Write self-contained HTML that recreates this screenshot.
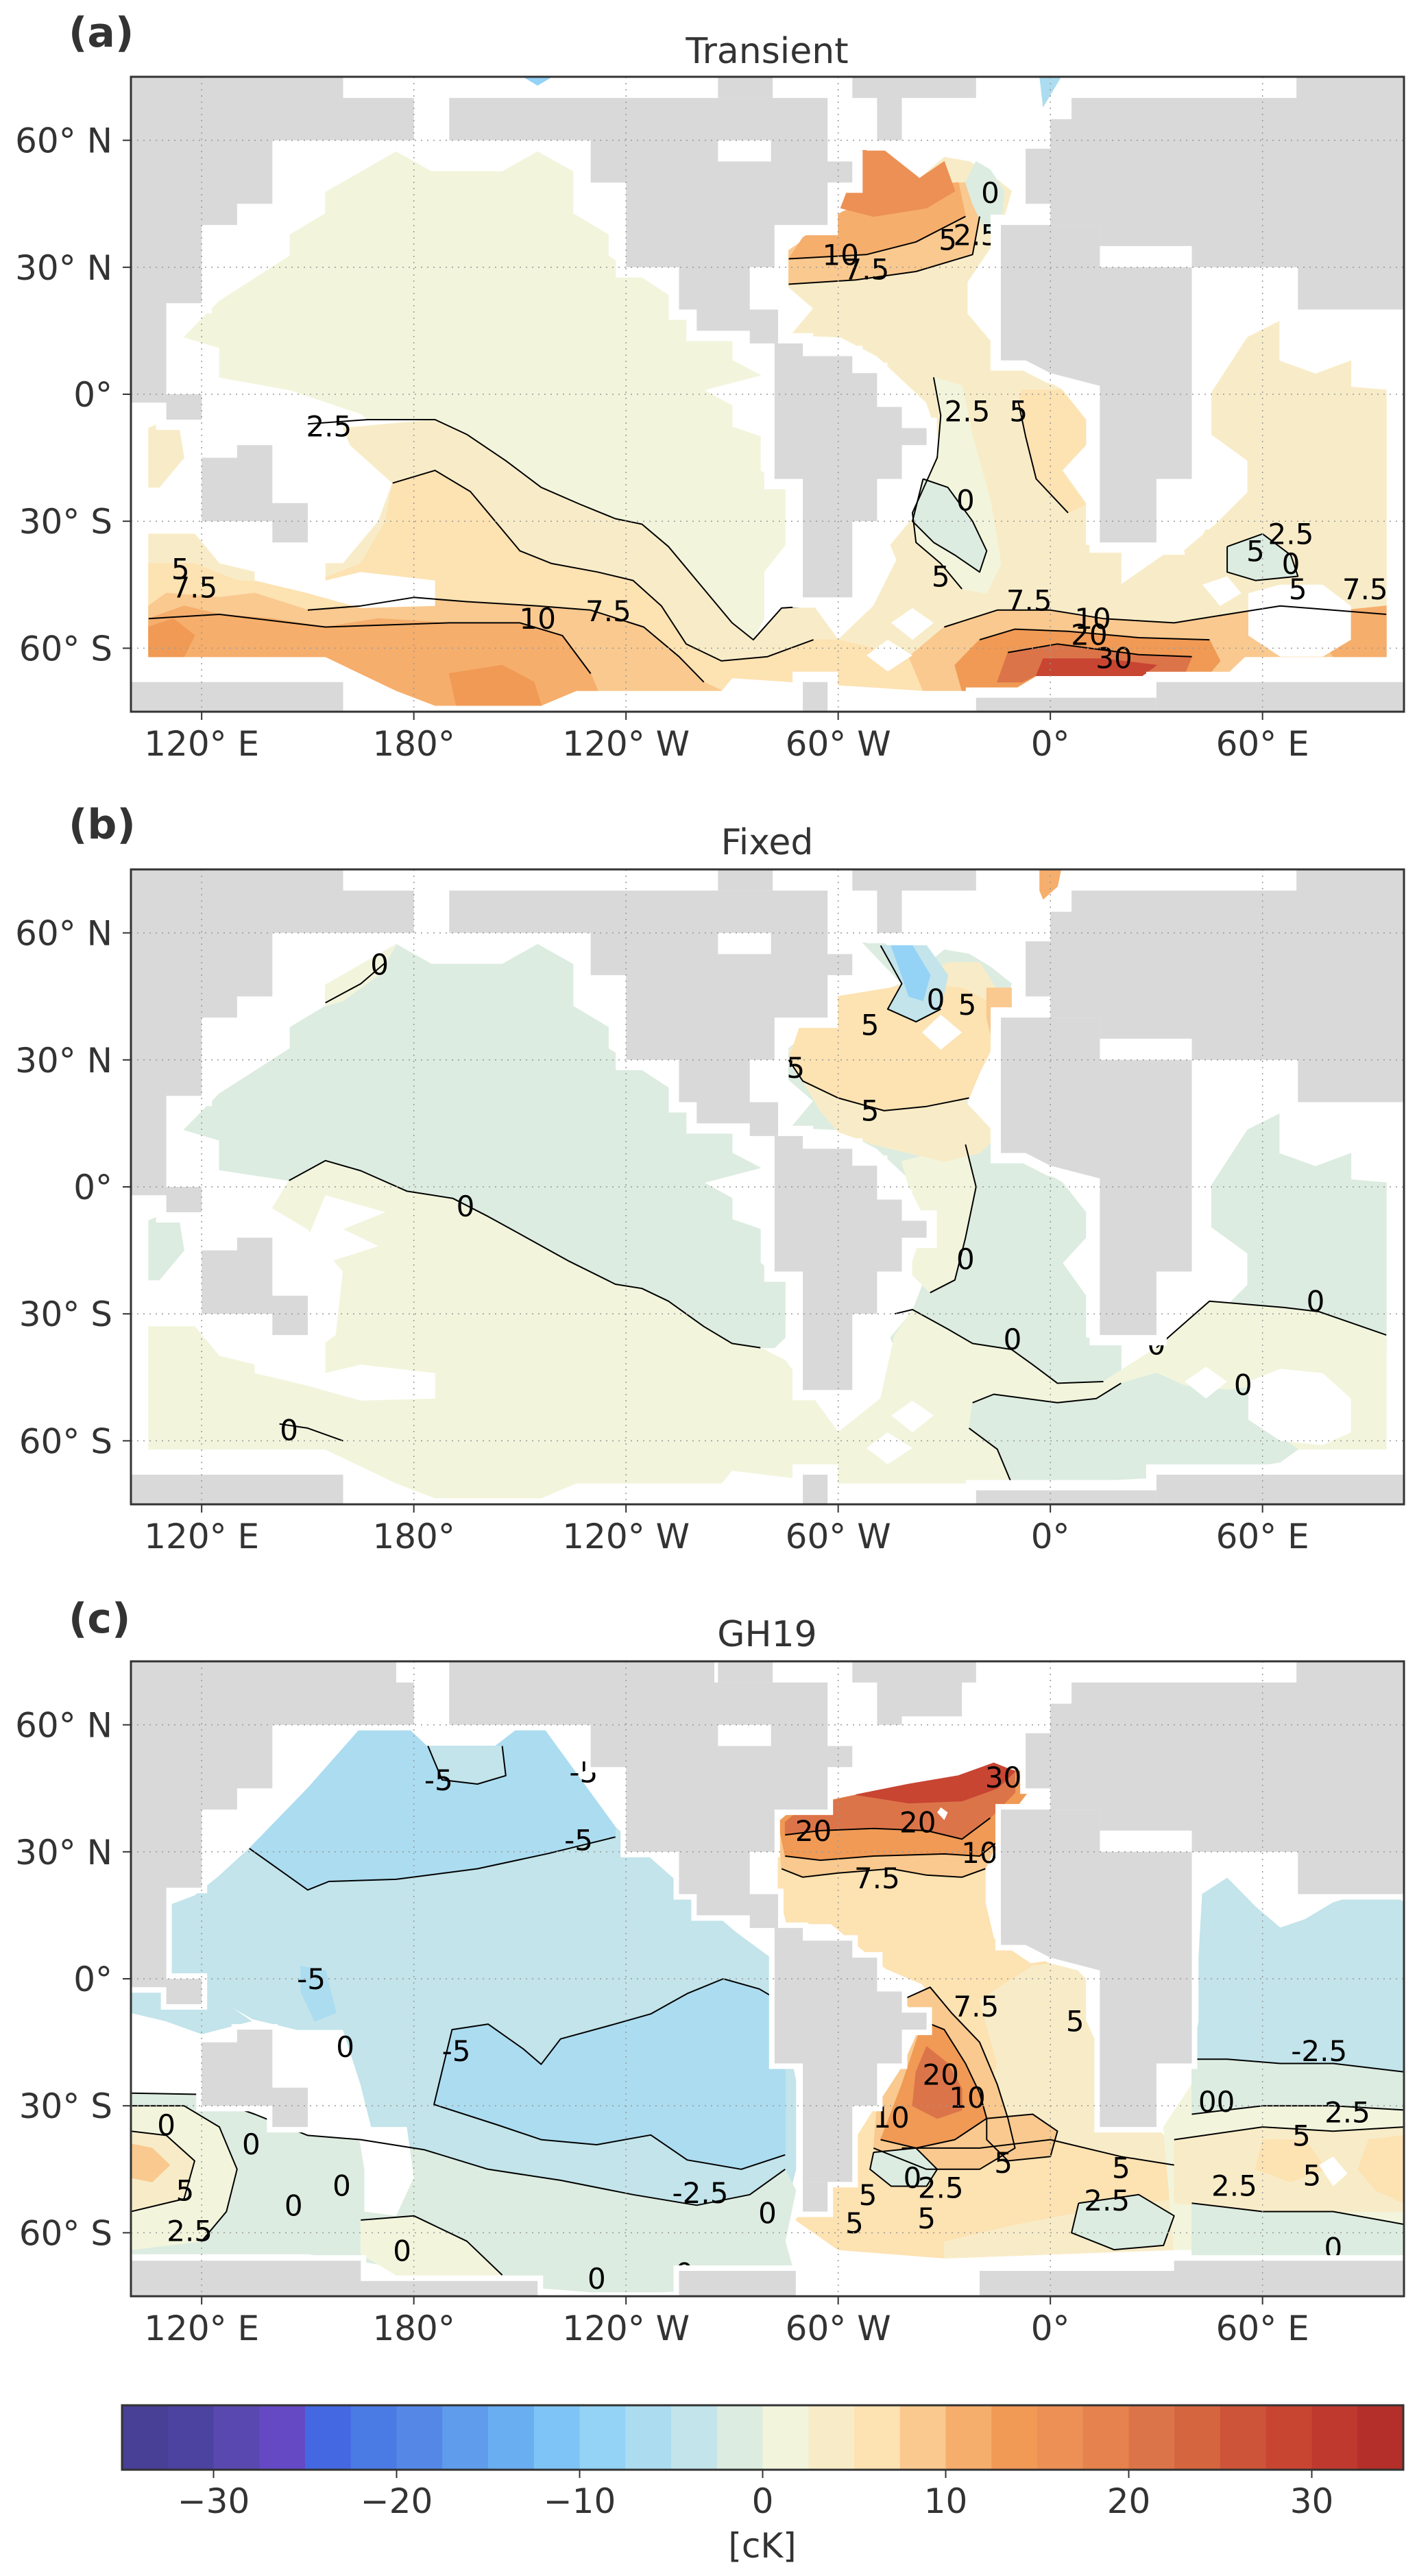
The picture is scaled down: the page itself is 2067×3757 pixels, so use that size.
<!DOCTYPE html>
<html><head><meta charset="utf-8"><title>Temperature anomaly maps</title>
<style>
html,body{margin:0;padding:0;background:#fff;}
body{width:2067px;height:3757px;overflow:hidden;}
svg{display:block;font-family:"DejaVu Sans","Liberation Sans",sans-serif;}
</style></head>
<body>
<svg id="fig" width="2067" height="3757" viewBox="0 0 2067 3757" xmlns="http://www.w3.org/2000/svg">
  <rect x="0" y="0" width="2067" height="3757" fill="#fff"/>
  <text x="100" y="68" font-size="60" font-weight="bold" fill="#333">(a)</text>
  <text x="1119" y="92" font-size="52" fill="#333" text-anchor="middle">Transient</text>
  <text x="100" y="1223" font-size="60" font-weight="bold" fill="#333">(b)</text>
  <text x="1119" y="1246" font-size="52" fill="#333" text-anchor="middle">Fixed</text>
  <text x="100" y="2381" font-size="60" font-weight="bold" fill="#333">(c)</text>
  <text x="1119" y="2401" font-size="52" fill="#333" text-anchor="middle">GH19</text>
  <g id="panels"></g>
  <g id="colorbar"></g>
  <text x="1112" y="3730" font-size="50" fill="#333" text-anchor="middle">[cK]</text>
</svg>
<script>
// ---------- colour scale ----------
const cbColors = ["#483f96","#4c42a0","#5848b0","#6548c4","#4468e2","#4a7ae4","#5588e6","#609cec","#6aaef2","#7ec4f6","#94d2f6","#acdcf0","#c2e4ea","#dcece0","#f2f5dc","#f8ecc8","#fde2b2","#f9c98f","#f6ae6c","#f09a55","#ec9055","#e5824d","#dc7449","#d4653f","#cd5438","#c84532","#c0392f","#b42f2a"];
const cbTicks = [-30,-20,-10,0,10,20,30];
const cbMin = -35, cbMax = 35, cbStep = 2.5;

// ---------- axes ----------
const lonTicks = [120,180,240,300,360,420];
const lonLabels = ["120° E","180°","120° W","60° W","0°","60° E"];
const latTicks = [60,30,0,-30,-60];
const latLabels = ["60° N","30° N","0°","30° S","60° S"];

// ---------- land (lon 100..460, lat) ----------
const landCommon = [
 [[100,75],[160,75],[160,70],[180,70],[180,60],[140,60],[140,45],[130,45],[130,40],[120,40],[120,21.5],[110,21.5],[110,0],[120,0],[120,-6],[110,-6],[110,-2],[100,-2]],
 [[120,-15],[130,-15],[130,-12],[140,-12],[140,-25.7],[150,-25.7],[150,-35],[140,-35],[140,-30],[120,-30]],
 [[190,70],[297,70],[297,55],[304,55],[304,50],[297,50],[297,40],[282,40],[282,30],[275,30],[275,20],[283,20],[283,12],[275,12],[275,15],[260,15],[260,20],[255,20],[255,30],[240,30],[240,50],[230,50],[230,60],[190,60]],
 [[266,75],[281.5,75],[281.5,70],[266,70]],
 [[304,75],[339,75],[339,70],[318,70],[318,60],[311,60],[311,70],[304,70]],
 [[282,12],[290,12],[290,9],[304,9],[304,5],[311,5],[311,-3],[318,-3],[318,-8],[325,-8],[325,-12],[318,-12],[318,-20],[311,-20],[311,-30],[304,-30],[304,-48],[290,-48],[290,-20],[282,-20]],
 [[346,8],[346,40],[374,40],[374,30],[400,30],[400,-20],[390,-20],[390,-35],[374,-35],[374,2],[360,5],[353,8]],
 [[353,45],[353,58],[360,58],[360,65],[366,65],[366,70],[429.6,70],[429.6,75],[460,75],[460,20],[430,20],[430,30],[400,30],[400,35],[374,35],[374,40],[360,40],[360,45]]
];
const landAB = [
 [[100,-68],[160,-68],[160,-75],[100,-75]],
 [[290,-68],[297,-68],[297,-75],[290,-75]],
 [[339,-71.7],[390,-71.7],[390,-75],[339,-75]],
 [[390,-68],[460,-68],[460,-75],[390,-75]]
];
const landC = [
 [[100,60],[175,60],[175,75],[100,75]],
 [[190,62],[265,62],[265,75],[190,75]],
 [[312,62],[335,62],[335,75],[312,75]],
 [[290,-48],[297,-48],[297,-55],[290,-55]],
 [[100,-66.6],[165,-66.6],[165,-71.4],[215,-71.4],[215,-75],[100,-75]],
 [[255,-69],[288,-69],[288,-75],[255,-75]],
 [[340,-69],[460,-69],[460,-75],[340,-75]],
 [[395,-66.6],[460,-66.6],[460,-69],[395,-69]]
];
const landHoles = [[[266,60],[281,60],[281,55],[266,55]]];

// ---------- panel (a) Transient ----------
const aValues = [3.75,6.25,1.25,3.75,3.75,3.75,6.25,1.25,-1.25,8.75,11.25,16.25,-1.25,8.75,13.75,21.25,28.75,8.75,11.25,13.75,13.75,-1.25,11.25,-8.75,-6.25];
const aRegions = [
 [[160,-8],[186,-6],[195,-9.5],[206,-15.7],[216,-22],[227,-26],[237,-29.4],[244.5,-30.7],[252,-36],[260,-44],[270,-54],[276,-58],[284,-50.5],[293,-50],[300,-58],[310,-50],[316,-40],[320,-35],[330,-38],[340,-45],[360,-46],[380,-45],[392,-38],[400,-38],[404,-32],[455,-42],[455,-62],[415,-62],[410,-66],[357,-66],[349,-70],[324,-70],[270,-67],[267,-70],[226,-70],[216,-73.5],[186,-73.5],[175,-70],[155,-62],[105,-62],[105,-33],[118,-33],[125,-40],[135,-42],[150,-40],[160,-40],[170,-30],[174,-21],[162,-12]],
 [[174,-21],[186,-18],[196,-23],[204,-31],[210,-37],[219,-40],[232,-42],[242,-44],[250,-50],[257,-59],[267,-63],[280,-62],[293,-58],[300,-58],[320,-62],[324,-70],[270,-67],[267,-70],[226,-70],[216,-73.5],[186,-73.5],[175,-70],[155,-62],[105,-62],[105,-40],[118,-40],[130,-44],[150,-45],[165,-40],[172,-30]],
 [[115,13.5],[125,22],[145,32.7],[145,37.7],[155,42.7],[155,47.7],[175,57.3],[185,52.6],[205,52.6],[215,57.3],[225,52.6],[225,42.7],[235,37.7],[235,32.7],[260,19],[270,13.5],[270,8],[278,4.5],[262,1],[270,-2.7],[270,-7.7],[278,-10],[278,-18],[285,-22.6],[285,-35.6],[279,-42],[279,-53],[276,-58],[270,-54],[260,-44],[252,-36],[244.5,-30.7],[237,-29.4],[227,-26],[216,-22],[206,-15.7],[195,-9.5],[186,-6],[167,-6],[165,-4.6],[145,1],[125,4],[125,11]],
 [[307,57.6],[313,57.6],[323,51],[330,56],[337,55],[343,52],[349,48],[345.5,37.7],[336.5,26.5],[336.5,19],[344,11.6],[352,6.6],[363.4,1],[370,-6],[370,-12],[363.4,-18],[370,-25.7],[370,-35.6],[380,-37],[380,-46],[320,-46],[314.8,-35.6],[321,-29.4],[329,-12],[325,-2],[311,9],[300.7,13.5],[286.7,14],[293,20.3],[286,25.3],[286,32.7],[300.7,42.7],[318,48]],
 [[405.6,0.4],[415.8,13.5],[424.7,17.2],[424.7,7.9],[435,4.8],[445,7.9],[445,1.7],[455,1],[455,-45],[400,-45],[397.9,-36.9],[406.8,-30.7],[415.8,-23.2],[415.8,-15.7],[405.6,-9.5]],
 [[105,-8],[113,-5],[115,-15],[108,-22],[105,-22]],
 [[352,1],[363,1],[370,-6],[370,-12],[363,-18],[370,-26],[365,-28],[356,-20],[353,-10],[351,-2]],
 [[327,4],[335,2],[338,-10],[343,-25],[346,-40],[342,-47],[335,-46],[329,-40],[322,-35],[321,-28],[328,-15],[329,-5]],
 [[324,-20],[331,-22],[338,-30],[342,-37],[340,-42],[333,-38],[327,-35],[321,-30]],
 [[286,26],[286,34],[300,42],[318,49],[336,50],[340,42],[338,33],[322,29],[305,27]],
 [[286,32],[290,37],[301,43],[318,49],[334,50],[336,42],[322,36],[308,33]],
 [[300.7,44],[307,57.6],[313,57.6],[323,51],[330,55],[333,48],[325,44],[310,42]],
 [[339,55],[343,53],[347,48],[346,40],[342,38],[338,45],[336,50]],
 [[330,-55],[345,-51],[360,-51],[375,-53],[395,-54],[410,-52],[425,-50],[455,-52],[455,-62],[415,-62],[410,-66],[357,-66],[349,-70],[324,-70],[320,-62]],
 [[340,-58],[350,-55.5],[365,-56],[385,-57.5],[405,-58],[408,-63],[405,-66],[357,-66],[349,-70],[335,-70],[333,-64]],
 [[348,-61],[362,-59],[385,-61.5],[400,-62],[398,-66],[357,-66],[352,-68],[345,-68]],
 [[358,-62.5],[375,-62.5],[390,-64],[386,-66.5],[356,-66.5]],
 [[105,-50],[110,-47],[125,-48],[135,-47],[150,-51],[165,-50],[180,-48],[195,-49],[215,-50],[230,-51],[245,-55],[255,-62],[262,-68],[267,-70],[226,-70],[216,-73.5],[186,-73.5],[175,-70],[155,-62],[105,-62]],
 [[105,-53],[115,-50],[125,-52],[140,-53],[155,-55],[170,-53],[190,-54],[210,-54],[222,-57],[230,-66],[232,-70],[226,-70],[216,-73.5],[186,-73.5],[175,-70],[155,-62],[105,-62]],
 [[105,-55],[112,-53],[118,-57],[115,-62],[105,-62]],
 [[190,-66],[205,-64],[214,-68],[216,-73.5],[192,-73.5]],
 [[410,-36],[420,-33],[428,-38],[430,-43],[418,-44],[410,-42]],
 [[432,-52],[455,-50],[455,-62],[440,-62]],
 [[211,75],[219,75],[215,73]],
 [[357,75],[363,75],[358,68]]
];
const aMasks = [
 [[321,-50.5],[327,-54],[321,-58],[315,-54]],
 [[314,-58],[321,-61.7],[314,-65.5],[308,-61.7]],
 [[416,-47],[425,-45],[437,-45],[445,-50],[445,-58],[437,-62],[425,-62],[416,-57]],
 [[403,-45],[410,-43],[414,-47],[408,-50]],
 [[135,-37],[155,-37],[155,-44],[165,-42],[186,-44],[186,-50],[165,-50.5],[150,-47],[135,-44]]
];
const aContours = [
 [[150,-7],[167,-6],[186,-6],[195,-9.5],[206,-15.7],[216,-22],[227,-26],[237,-29.4],[244.5,-30.7],[252,-36],[260,-44],[270,-54],[276,-58],[284,-50.5],[293,-50]],
 [[174,-21],[186,-18],[196,-23],[204,-31],[210,-37],[219,-40],[232,-42],[242,-44],[250,-50],[257,-59],[267,-63],[280,-62],[293,-58]],
 [[150,-51],[165,-50],[180,-48],[195,-49],[215,-50],[230,-51],[245,-55],[255,-62],[262,-68]],
 [[105,-53],[125,-52],[155,-55],[190,-54],[210,-54],[222,-57],[230,-66]],
 [[330,-55],[345,-51],[360,-51],[375,-53],[395,-54],[410,-52],[425,-50],[455,-52]],
 [[340,-58],[350,-55.5],[365,-56],[385,-57.5],[405,-58]],
 [[348,-61],[362,-59],[385,-61.5],[400,-62]],
 [[286,26],[305,27],[322,29],[338,33],[340,42]],
 [[286,32],[308,33],[322,36],[336,42]],
 [[327,4],[329,-5],[328,-15],[321,-28],[322,-35],[329,-40],[335,-46]],
 [[324,-20],[331,-22],[338,-30],[342,-37],[340,-42],[333,-38],[327,-35],[321,-30],[324,-20]],
 [[351,-2],[353,-10],[356,-20],[365,-28]],
 [[410,-36],[420,-33],[428,-38],[430,-43],[418,-44],[410,-42],[410,-36]]
];
const aLabelText = ["2.5","10","7.5","5","7.5","10","20","30","0","2.5","5","10","7.5","5","2.5","0","5","7.5","5","2.5","0","5","7.5"];
const aLabelLon = [156,215,235,329,354,372,371,378,336,336.5,351,300.7,308,331,339,343,114,118,418,428,428,430,449];
const aLabelLat = [-7.5,-53,-51.2,-43,-48.7,-53,-56.8,-62.3,-25,-4,-4,33,29.6,36.5,37.7,47.6,-41.2,-45.6,-37,-33,-40,-46,-46];

// ---------- panel (b) Fixed ----------
const bValues = [-1.25,-1.25,-1.25,1.25,-1.25,1.25,1.25,-1.25,3.75,6.25,8.75,-3.75,-8.75,11.25];
const bRegions = [
 [[307,57.6],[313,57.6],[323,51],[330,56],[337,55],[343,52],[349,48],[345.5,37.7],[336.5,26.5],[336.5,19],[344,11.6],[352,6.6],[363.4,1],[370,-6],[370,-12],[363.4,-18],[370,-25.7],[370,-35.6],[380,-37],[380,-46],[320,-46],[314.8,-35.6],[321,-29.4],[329,-12],[325,-2],[311,9],[300.7,13.5],[286.7,14],[293,20.3],[286,25.3],[286,32.7],[300.7,42.7],[318,48]],
 [[405.6,0.4],[415.8,13.5],[424.7,17.2],[424.7,7.9],[435,4.8],[445,7.9],[445,1.7],[455,1],[455,-40],[400,-40],[397.9,-36.9],[406.8,-30.7],[415.8,-23.2],[415.8,-15.7],[405.6,-9.5]],
 [[105,-8],[113,-5],[115,-15],[108,-22],[105,-22]],
 [[144.7,1.5],[155,6.2],[165,3.8],[178,-1],[191,-2.7],[201,-7],[211,-11.6],[224,-17.6],[237,-23],[244.5,-24],[252,-27],[262,-33],[270,-37],[278,-38],[285,-41],[293,-50],[300,-58],[312,-50],[316,-35],[321,-29],[331,-33.6],[338,-37],[349,-38.4],[355,-42],[362,-46.4],[375,-46],[390,-38],[405,-27],[426,-28.5],[436,-29.5],[455,-35],[455,-62],[415,-62],[410,-66],[357,-66],[349,-70],[324,-70],[300,-70],[270,-67],[267,-70],[226,-70],[216,-73.5],[186,-73.5],[175,-70],[155,-62],[105,-62],[105,-33],[118,-33],[125,-40],[135,-42],[150,-40],[158,-35],[160,-20],[150,-10],[140,-5]],
 [[115,13.5],[125,22],[145,32.7],[145,37.7],[155,42.7],[155,47.7],[175,57.3],[185,52.6],[205,52.6],[215,57.3],[225,52.6],[225,42.7],[235,37.7],[235,32.7],[260,19],[270,13.5],[270,8],[278,4.5],[262,1],[270,-2.7],[270,-7.7],[278,-10],[278,-18],[285,-22.6],[285,-35.6],[282,-38],[278,-38],[270,-37],[262,-33],[252,-27],[244.5,-24],[237,-23],[224,-17.6],[211,-11.6],[201,-7],[191,-2.7],[178,-1],[165,3.8],[155,6.2],[144.7,1.5],[125,4],[125,11]],
 [[155,42.7],[155,47.7],[175,57.3],[170,50],[160,44]],
 [[318,6],[336,10],[339,0],[336,-12],[333,-22],[326,-25],[320,-20],[325,-8],[320,0]],
 [[338,-51],[344,-49],[362,-51],[373,-50],[380,-46.4],[390,-44],[398,-47],[410,-48],[420,-47],[418,-55],[430,-62],[425,-65],[405,-68],[360,-70],[350,-72],[345,-62],[337,-57]],
 [[286,32],[300,45],[315,47],[322,49],[331,53],[340,53],[346,45],[346,40],[345,35],[340,27],[336,20],[345,12],[340,8],[330,6],[310,10],[300,13],[295,18],[290,25]],
 [[286,30],[290,40],[300,45],[322,48],[335,47],[342,44],[346,38],[340,27],[337,21],[325,19],[313,18],[300,21],[290,25]],
 [[342,47],[349,47],[349,36],[344,33],[342,40]],
 [[312,57],[325,57],[331,50],[329,42],[322,39],[314,42],[318,48]],
 [[315,57],[321,57],[326,50],[324,44],[320,45],[318,50]],
 [[357,75],[363,75],[362,71],[358,68],[357,70]]
];
const bMasks = [
 [[323.7,36.5],[329,40.7],[335,36.5],[329,32.4]],
 [[321,-50.5],[327,-54],[321,-58],[315,-54]],
 [[314,-58],[321,-61.7],[314,-65.5],[308,-61.7]],
 [[416,-46],[425,-43],[437,-44],[445,-50],[445,-58],[437,-61],[425,-60],[416,-55]],
 [[398,-46],[404,-42.5],[410,-46],[404,-50]],
 [[135,-37],[155,-37],[155,-44],[165,-42],[186,-44],[186,-50],[165,-50.5],[150,-47],[135,-44]],
 [[155,-2],[172,-6],[160,-10],[170,-14],[155,-18],[150,-12]]
];
const bContours = [
 [[144.7,1.5],[155,6.2],[165,3.8],[178,-1],[191,-2.7],[201,-7],[211,-11.6],[224,-17.6],[237,-23],[244.5,-24],[252,-27],[262,-33],[270,-37],[278,-38]],
 [[155,43.5],[165,48],[172,53]],
 [[336,10],[339,0],[336,-12],[333,-22],[326,-25]],
 [[316,-30],[321,-29],[331,-33.6],[338,-37],[349,-38.4],[355,-42],[362,-46.4],[375,-46]],
 [[338,-51],[344,-49],[362,-51],[373,-50],[380,-46.4]],
 [[337,-57],[345,-62],[350,-72]],
 [[390,-38],[405,-27],[426,-28.5],[436,-29.5],[455,-35]],
 [[286,30],[290,25],[300,21],[313,18],[325,19],[337,21]],
 [[312,57],[318,48],[314,42],[322,39],[329,42]],
 [[142,-56],[150,-57],[160,-60]]
];
const bLabelText = ["0","0","0","0","0","0","0","0","5","5","5","5","0"];
const bLabelLon = [170.3,194.6,144.7,336,349.3,390,414.5,435,288,309,309,336.5,327.6];
const bLabelLat = [52.6,-4.5,-57.4,-17,-36,-37.2,-46.7,-27,28.2,18.1,38.3,43.1,44.3];

// ---------- panel (c) GH19 ----------
const cValues = [-3.75,-3.75,-6.25,-3.75,-6.25,-6.25,-1.25,1.25,3.75,8.75,1.25,6.25,3.75,6.25,-1.25,8.75,13.75,21.25,28.75,8.75,13.75,21.25,-1.25,8.75,1.25,-3.75,-1.25,3.75,6.25,6.25,-1.25];
const cRegions = [
 [[100,14],[118,19.6],[119,5],[127,-6],[134,-10],[120,-13],[110,-10],[100,-8]],
 [[164.6,58.8],[175.8,61.2],[183.6,55],[200,53],[209,58.8],[217,58.8],[237,35.8],[257,21],[271,11],[285,2.4],[285,-12],[288,-24],[288,-45],[285,-55],[270,-57],[250,-57],[220,-55],[190,-50],[175,-45],[168,-35],[165,-25],[160,-12],[147,-12],[134.5,-9.5],[127,-6],[119,5],[118,19.6],[124.6,24],[133.5,30.8],[150,45]],
 [[164.6,58.8],[175.8,61.2],[183.6,55],[200,53],[209,58.8],[217,58.8],[237,35.8],[237,33.5],[218,29.6],[198,26],[175,23.5],[156,23],[150,21],[135,30],[133.5,30.8],[150,45]],
 [[184,55],[205,55],[206,48],[198,46],[188,47]],
 [[185.7,-29.7],[190.8,-12],[201,-10.7],[211,-16.6],[216,-20.2],[221.5,-14.2],[236.8,-10.7],[247,-8.3],[257.3,-3.5],[267.5,0],[277.7,-2.4],[285,-6],[285,-41.6],[272.6,-45],[257.3,-42.8],[247,-36.9],[231.7,-39.2],[216,-38],[203.6,-34.5]],
 [[148,3],[155,2],[158,-8],[152,-10],[148,-3]],
 [[100,-27],[119,-27.3],[135,-32],[150,-37],[165,-38],[183,-40.4],[201,-45],[221.5,-47.6],[242,-51],[260,-53.5],[275,-51],[285,-45],[288,-50],[285,-62],[288,-71],[270,-73],[250,-74],[230,-74],[200,-72],[175,-68],[150,-65],[100,-65]],
 [[100,-30],[115,-30],[125,-35],[130,-45],[127,-55],[120,-62],[100,-64]],
 [[100,-36],[110,-37],[118,-43],[115,-52],[100,-55]],
 [[100,-39],[106,-40],[111,-44],[106,-48],[100,-47]],
 [[165,-57],[180,-56],[195,-62],[205,-70],[200,-74],[175,-70],[165,-65]],
 [[283,37],[288,40.5],[308.4,44],[334,47.6],[344,50],[352,49],[354.4,45],[349,39],[346.8,35.7],[341.6,26],[341.6,17.9],[344,9.5],[354.4,3.6],[364.6,4.8],[369.8,0],[369.8,-9.5],[375,-19],[377.4,-31],[387.7,-33.3],[395,-40],[395,-64],[330,-66],[300,-64],[288,-57],[303,-40.4],[311,-29.7],[318.6,-21.4],[323.7,-9.5],[329,-7],[323.7,-1.2],[313.5,2.4],[303,9.5],[298,13],[285.4,13],[283,21.4]],
 [[340,-5],[355,3],[365,4],[370,0],[370,-10],[375,-19],[377,-31],[388,-33],[395,-40],[395,-64],[330,-66],[330,-45],[340,-35],[345,-20]],
 [[318,-40],[340,-40],[360,-38],[380,-42],[395,-44],[395,-52],[375,-54],[350,-58],[330,-62],[310,-58],[305,-48]],
 [[368,-53],[385,-51],[395,-56],[392,-63],[378,-64],[366,-60]],
 [[283,37],[288,40.5],[308.4,44],[334,47.6],[344,50],[352,49],[354.4,45],[349,39],[346.8,35.7],[341.6,26],[335,24],[325,24.5],[315,26],[300,25],[290,24],[284,26]],
 [[283,37],[288,40.5],[308.4,44],[334,47.6],[344,50],[352,49],[354.4,45],[349,39],[346,33],[340,29],[330,29.5],[310,29],[295,28],[285,29]],
 [[285,37],[290,40.5],[308,44],[334,47.6],[344,50],[350,49],[350,44],[343,38],[335,33],[325,35],[310,35.5],[295,35],[285,34]],
 [[305,43.5],[320,46],[334,48],[344,51],[350,49],[345,45],[335,42],[320,41.5]],
 [[318,-5],[326,-2],[332,-8],[340,-15],[345,-25],[348,-33],[350,-40],[340,-45],[325,-45],[310,-40],[311,-30],[318,-21],[324,-10]],
 [[324,-10],[330,-12],[336,-20],[340,-27],[342,-33],[333,-38],[322,-40],[312,-38],[318,-25],[322,-15]],
 [[325,-16],[331,-20],[335,-26],[335,-31],[328,-33],[321,-30],[322,-22]],
 [[310,-41],[322,-40],[328,-45],[325,-49],[315,-49],[309,-45]],
 [[342,-33],[355,-32],[362,-36],[360,-42],[348,-43],[342,-38]],
 [[403,20],[410,23.8],[418,17],[425,12],[432,14],[440,18],[448,20],[455,21],[460,18],[460,-64],[395,-64],[392,-35],[400,-25],[402,-10],[402,5]],
 [[403,20],[410,23.8],[418,17],[425,12],[432,14],[440,18],[448,20],[455,21],[460,18],[460,-22],[440,-20],[425,-20],[410,-19],[400,-19],[402,-10],[402,5]],
 [[400,-19],[410,-19],[425,-20],[440,-20],[460,-22],[460,-31],[440,-30],[420,-30],[400,-32]],
 [[395,-38],[420,-35],[440,-36],[460,-35],[460,-55],[440,-55],[420,-55],[395,-53]],
 [[420,-38],[432,-38],[438,-45],[428,-48],[418,-45]],
 [[450,-38],[460,-37],[460,-53],[452,-50],[447,-45]],
 [[400,-53],[420,-55],[440,-55],[460,-58],[460,-66],[400,-66]]
];
const cMasks = [
 [[164,-35],[178,-35],[180,-47],[175,-56],[166,-55],[166,-45]],
 [[329,40.5],[331,39.3],[330,37.5],[328,39.3]],
 [[436,-44],[440,-42],[444,-46],[440,-49]]
];
const cContours = [
 [[133.5,30.8],[150,21],[156,23],[175,23.5],[198,26],[218,29.6],[237,33.5]],
 [[285,-6],[277.7,-2.4],[267.5,0],[257.3,-3.5],[247,-8.3],[236.8,-10.7],[221.5,-14.2],[216,-20.2],[211,-16.6],[201,-10.7],[190.8,-12],[185.7,-29.7],[203.6,-34.5],[216,-38],[231.7,-39.2],[247,-36.9],[257.3,-42.8],[272.6,-45],[285,-41.6]],
 [[100,-27],[119,-27.3],[135,-32],[150,-37],[165,-38],[183,-40.4],[201,-45],[221.5,-47.6],[242,-51],[260,-53.5],[275,-51],[285,-45]],
 [[184,55],[188,47],[198,46],[206,48],[205,55]],
 [[284,26],[290,24],[300,25],[315,26],[325,24.5],[335,24],[341.6,26]],
 [[285,29],[295,28],[310,29],[330,29.5],[340,29],[346,33]],
 [[285,34],[295,35],[310,35.5],[325,35],[335,33],[343,38]],
 [[318,-5],[326,-2],[332,-8],[340,-15],[345,-25],[348,-33],[350,-40],[340,-45],[325,-45],[310,-40]],
 [[324,-10],[330,-12],[336,-20],[340,-27],[342,-33],[333,-38],[322,-40],[312,-38]],
 [[310,-41],[322,-40],[328,-45],[325,-49],[315,-49],[309,-45],[310,-41]],
 [[342,-33],[355,-32],[362,-36],[360,-42],[348,-43],[342,-38],[342,-33]],
 [[318,-40],[340,-40],[360,-38],[380,-42],[395,-44]],
 [[368,-53],[385,-51],[395,-56],[392,-63],[378,-64],[366,-60],[368,-53]],
 [[400,-19],[410,-19],[425,-20],[440,-20],[460,-22]],
 [[400,-32],[420,-30],[440,-30],[460,-31]],
 [[395,-38],[420,-35],[440,-36],[460,-35]],
 [[100,-30],[115,-30],[125,-35],[130,-45],[127,-55],[120,-62]],
 [[100,-36],[110,-37],[118,-43],[115,-52],[100,-55]],
 [[165,-57],[180,-56],[195,-62],[205,-70]],
 [[400,-53],[420,-55],[440,-55],[460,-58]]
];
const cLabelText = ["-5","-5","-5","7.5","20","20","30","10","-5","0","-5","7.5","5","20","10","10","-2.5","00","2.5","5","5","2.5","0","0","5","2.5","0","0","0","0","0","-2.5","0","5","5","0","2.5","5","5","5","2.5","0"];
const cLabelLon = [187,228,226.6,311,293,322.5,346.7,340,151,160.6,192,339,367,329,336.5,315,436,407,444,431,434,412,110,134,115.3,116.6,159.6,146,176.7,231.7,256.5,261,280,304.6,308.4,321,329,325,346.7,380,376,440];
const cLabelLat = [47,48.8,32.8,23.8,35,37,47.6,29.8,0,-16,-17,-6.5,-10,-22.6,-28,-32.7,-17,-29,-31.5,-37,-46.4,-48.8,-34.5,-39,-50,-59.5,-48.8,-53.5,-64.2,-70.8,-69.6,-50.5,-55.3,-57.7,-51,-47,-49.3,-56.5,-43.4,-44.6,-52.3,-63.6];

// ---------- layout ----------
const FX = 191, FW = 1857, FH = 926;
const NS = "http://www.w3.org/2000/svg";
function colorOf(v){ let i = Math.floor((v - cbMin) / cbStep); i = Math.max(0, Math.min(cbColors.length - 1, i)); return cbColors[i]; }
function mk(tag, attrs, parent){ const el = document.createElementNS(NS, tag); for (const k in attrs) el.setAttribute(k, attrs[k]); parent.appendChild(el); return el; }

function drawPanel(key, top, values, regions, masks, contours, lt, llon, llat, extraLand, coastW){
  const X = lon => FX + (lon - 100) * FW / 360;
  const Y = lat => top + (75 - lat) * FH / 150;
  const pts = arr => arr.map(p => X(p[0]).toFixed(1) + "," + Y(p[1]).toFixed(1)).join(" ");
  const root = document.getElementById("panels");
  const g = mk("g", {}, root);
  
  
  const cid = "clip-" + key;
  const defs = mk("defs", {}, g);
  const cp = mk("clipPath", {id: cid}, defs);
  mk("rect", {x: FX, y: top, width: FW, height: FH}, cp);
  const inner = mk("g", {"clip-path": "url(#" + cid + ")"}, g);
  const bg = mk("rect", {x: FX, y: top, width: FW, height: FH, fill: "#fff"}, inner);
  
  
  regions.forEach((r, i) => {
    const p = mk("polygon", {points: pts(r), fill: colorOf(values[i]), stroke: colorOf(values[i]), "stroke-width": 1}, inner);
    
    
  });
  masks.forEach(m => {
    const p = mk("polygon", {points: pts(m), fill: "#fff"}, inner);
    
    
  });
  contours.forEach(c => {
    const l = mk("polyline", {points: pts(c), fill: "none", stroke: "#000", "stroke-width": 2, "stroke-linejoin": "round"}, inner);
    
    
  });
  lt.forEach((t, i) => {
    const tx = mk("text", {x: X(llon[i]), y: Y(llat[i]) + 15, "font-size": 42, "text-anchor": "middle", fill: "#000"}, inner);
    tx.textContent = t;
    
    
  });
  const land = landCommon.concat(extraLand);
  land.forEach(l => { mk("polygon", {points: pts(l), fill: "#fff", stroke: "#fff", "stroke-width": coastW, "stroke-linejoin": "miter"}, inner); });
  land.forEach(l => {
    const p = mk("polygon", {points: pts(l), fill: "#d9d9d9"}, inner);
    
    
  });
  landHoles.forEach(h => { mk("polygon", {points: pts(h), fill: "#fff"}, inner); });
  lonTicks.forEach(t => { mk("line", {x1: X(t), x2: X(t), y1: top, y2: top + FH, stroke: "#999", "stroke-width": 1.5, "stroke-dasharray": "2 7"}, inner); });
  latTicks.forEach(t => { mk("line", {x1: FX, x2: FX + FW, y1: Y(t), y2: Y(t), stroke: "#999", "stroke-width": 1.5, "stroke-dasharray": "2 7"}, inner); });
  const fr = mk("rect", {x: FX, y: top, width: FW, height: FH, fill: "none", stroke: "#333", "stroke-width": 3}, g);
  
  
  lonTicks.forEach((t, i) => {
    mk("line", {x1: X(t), x2: X(t), y1: top + FH, y2: top + FH + 12, stroke: "#333", "stroke-width": 2}, g);
    const tx = mk("text", {x: X(t), y: top + FH + 64, "font-size": 50, "text-anchor": "middle", fill: "#333"}, g);
    tx.textContent = lonLabels[i];
    
    
  });
  latTicks.forEach((t, i) => {
    mk("line", {x1: FX - 12, x2: FX, y1: Y(t), y2: Y(t), stroke: "#333", "stroke-width": 2}, g);
    const tx = mk("text", {x: 164, y: Y(t) + 18, "font-size": 50, "text-anchor": "end", fill: "#333"}, g);
    tx.textContent = latLabels[i];
    
    
  });
}

drawPanel("a", 112, aValues, aRegions, aMasks, aContours, aLabelText, aLabelLon, aLabelLat, landAB, 30);
drawPanel("b", 1268, bValues, bRegions, bMasks, bContours, bLabelText, bLabelLon, bLabelLat, landAB, 30);
drawPanel("c", 2423, cValues, cRegions, cMasks, cContours, cLabelText, cLabelLon, cLabelLat, landC, 16);

// ---------- colorbar ----------
(function(){
  const g = document.getElementById("colorbar");
  const CX = 178, CW = 1869, CY = 3508, CH = 94;
  const V = v => CX + (v - cbMin) / (cbMax - cbMin) * CW;
  cbColors.forEach((c, i) => {
    const lo = cbMin + i * cbStep;
    const r = mk("rect", {x: V(lo), y: CY, width: V(lo + cbStep) - V(lo) + 0.6, height: CH, fill: c}, g);
    
    
  });
  mk("rect", {x: CX, y: CY, width: CW, height: CH, fill: "none", stroke: "#333", "stroke-width": 3}, g);
  cbTicks.forEach(t => {
    mk("line", {x1: V(t), x2: V(t), y1: CY + CH, y2: CY + CH + 12, stroke: "#333", "stroke-width": 2}, g);
    const tx = mk("text", {x: V(t), y: 3665, "font-size": 50, "text-anchor": "middle", fill: "#333"}, g);
    tx.textContent = t < 0 ? "\u2212" + Math.abs(t) : String(t);
    
    
  });
})();
</script>
</body></html>
